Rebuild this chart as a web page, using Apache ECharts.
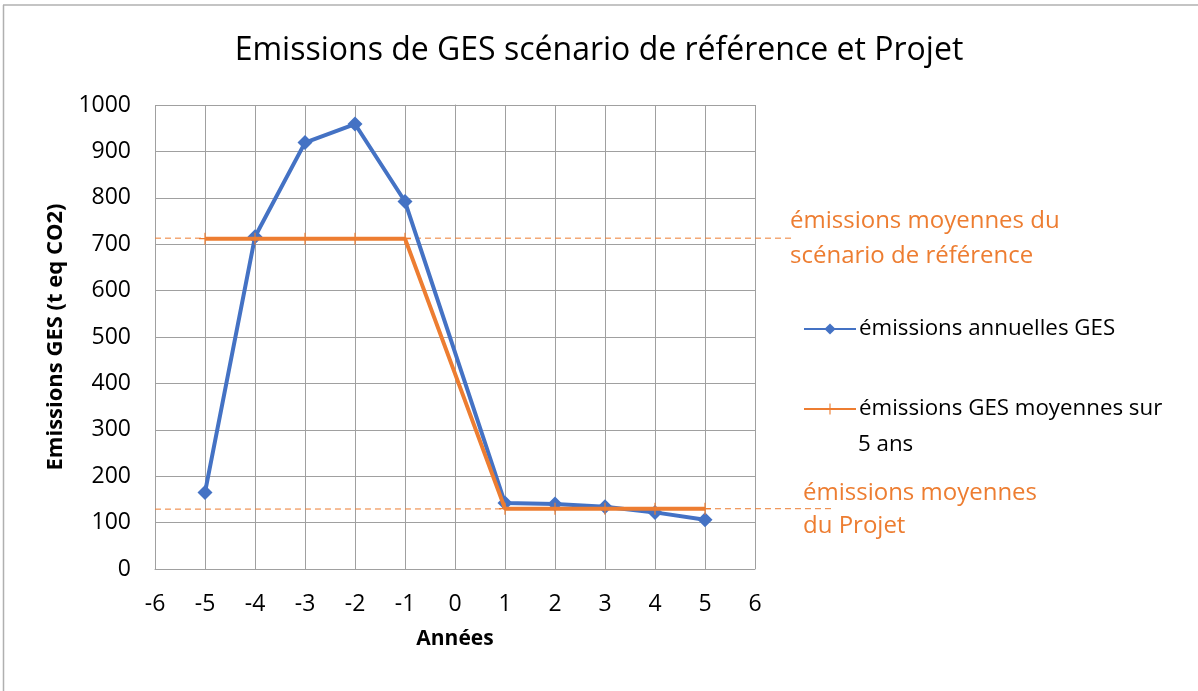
<!DOCTYPE html>
<html><head><meta charset="utf-8">
<script src="https://cdn.jsdelivr.net/npm/echarts@6/dist/echarts.min.js"></script>
<style>html,body{margin:0;padding:0;background:#fff}#c{width:1198px;height:691px}</style>
</head><body><div id="c"></div>
<script>
const years = [-5, -4, -3, -2, -1, 1, 2, 3, 4, 5];
const annual = [165, 716, 919, 959, 792, 142, 140, 134, 122, 106];
const avg5 = [712, 712, 712, 712, 712, 130, 130, 130, 130, 130];
const refMeanLine = [[-6, 713], [6.8, 713]];
const projMeanLine = [[-6, 129], [7.6, 130]];
const xTicks = { min: -6, max: 6, interval: 1 };
const yTicks = { min: 0, max: 1000, interval: 100 };
const FONT = 'Open Sans';
const BLUE = '#4472C4', ORANGE = '#ED7D31', GRID = '#a0a0a0';
const plusPath = 'path://M-0.6,-6h1.2v5.4h5.4v1.2h-5.4v5.4h-1.2v-5.4h-5.4v-1.2h5.4z';

const chart = echarts.init(document.getElementById('c'), null, { renderer: 'canvas' });
chart.setOption({
  animation: false,
  textStyle: { fontFamily: FONT },
  title: {
    text: 'Emissions de GES scénario de référence et Projet',
    left: 'center', top: 35, padding: 0,
    textStyle: { fontFamily: FONT, fontSize: 32, fontWeight: 'normal', color: '#000' }
  },
  grid: [
    { left: 155, right: 443, top: 105, bottom: 122, containLabel: false },
    { left: 155, right: 363, top: 105, bottom: 122, containLabel: false }
  ],
  xAxis: [{
    type: 'value', gridIndex: 0, min: xTicks.min, max: xTicks.max, interval: xTicks.interval,
    name: 'Années', nameLocation: 'middle', nameGap: 60,
    nameTextStyle: { fontFamily: FONT, fontSize: 21, fontWeight: 'bold', color: '#000' },
    axisLine: { show: true, onZero: false, lineStyle: { color: GRID, width: 1 } },
    axisTick: { show: false },
    axisLabel: { fontFamily: FONT, fontSize: 23, color: '#000', margin: 24 },
    splitLine: { show: true, lineStyle: { color: GRID, width: 1 } }
  }, {
    type: 'value', gridIndex: 1, min: -6, max: 7.6, show: false
  }],
  yAxis: [{
    type: 'value', gridIndex: 0, min: yTicks.min, max: yTicks.max, interval: yTicks.interval,
    name: 'Emissions GES (t eq CO2)', nameLocation: 'middle', nameGap: 88,
    nameTextStyle: { fontFamily: FONT, fontSize: 22, fontWeight: 'bold', color: '#000' },
    axisLine: { show: true, lineStyle: { color: GRID, width: 1 } },
    axisTick: { show: false },
    axisLabel: { fontFamily: FONT, fontSize: 23, color: '#000', margin: 24, formatter: v => String(v) },
    splitLine: { show: true, lineStyle: { color: GRID, width: 1 } }
  }, {
    type: 'value', gridIndex: 1, min: 0, max: 1000, show: false
  }],
  legend: [
    {
      data: ['émissions annuelles GES'], orient: 'vertical', left: 803, top: 318,
      itemWidth: 52, itemHeight: 14, itemGap: 0, padding: 0,
      textStyle: { fontFamily: FONT, fontSize: 22.3, color: '#000', padding: [0, 0, 0, -2] }
    },
    {
      data: ['émissions GES moyennes sur 5 ans'], orient: 'vertical', left: 803, top: 398,
      itemWidth: 52, itemHeight: 14, itemGap: 0, padding: 0,
      formatter: () => 'émissions GES moyennes sur',
      textStyle: { fontFamily: FONT, fontSize: 22.3, color: '#000', padding: [0, 0, 0, -2] }
    }
  ],
  graphic: [
    { type: 'line', shape: { x1: 3, y1: 5, x2: 1198, y2: 5 }, style: { stroke: '#b0b0b0', lineWidth: 1.5 } },
    { type: 'line', shape: { x1: 3.5, y1: 5, x2: 3.5, y2: 691 }, style: { stroke: '#b0b0b0', lineWidth: 1.5 } },
    { type: 'text', left: 858, top: 434, style: { text: '5 ans', fontFamily: FONT, fontSize: 22.3, fill: '#000' } },
    { type: 'text', left: 790, top: 204, style: { text: 'émissions moyennes du\nscénario de référence', fontFamily: FONT, fontSize: 24, lineHeight: 35, fill: ORANGE } },
    { type: 'text', left: 803, top: 477, style: { text: 'émissions moyennes\ndu Projet', fontFamily: FONT, fontSize: 24, lineHeight: 33, fill: ORANGE } }
  ],
  series: [
    {
      name: 'refMean', type: 'line', xAxisIndex: 1, yAxisIndex: 1, silent: true, symbol: 'none',
      data: refMeanLine, z: 1,
      lineStyle: { color: ORANGE, width: 1, type: [6, 4] }
    },
    {
      name: 'projMean', type: 'line', xAxisIndex: 1, yAxisIndex: 1, silent: true, symbol: 'none',
      data: projMeanLine, z: 1,
      lineStyle: { color: ORANGE, width: 1, type: [6, 4] }
    },
    {
      name: 'émissions annuelles GES', type: 'line', z: 3,
      data: years.map((x, i) => [x, annual[i]]),
      symbol: 'diamond', symbolSize: 15,
      lineStyle: { color: BLUE, width: 4 },
      itemStyle: { color: BLUE }
    },
    {
      name: 'émissions GES moyennes sur 5 ans', type: 'line', z: 4,
      data: years.map((x, i) => [x, avg5[i]]),
      symbol: plusPath, symbolSize: 12,
      lineStyle: { color: ORANGE, width: 4 },
      itemStyle: { color: ORANGE }
    }
  ]
});
</script></body></html>
